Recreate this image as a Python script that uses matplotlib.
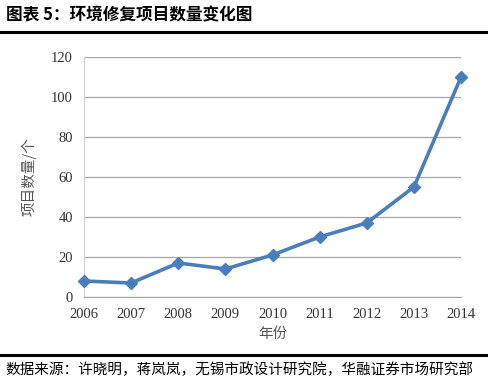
import matplotlib.pyplot as plt
from matplotlib.lines import Line2D

# data
years = [2006, 2007, 2008, 2009, 2010, 2011, 2012, 2013, 2014]
counts = [8, 7, 17, 14, 21, 30, 37, 55, 110]
y_ticks = [0, 20, 40, 60, 80, 100, 120]

title_text = "图表 5：环境修复项目数量变化图"
source_text = "数据来源：许晓明，蒋岚岚，无锡市政设计研究院，华融证券市场研究部"

cjk = ['Noto Sans CJK SC', 'DejaVu Sans']
serif = ['Liberation Serif', 'Noto Sans CJK SC']

fig = plt.figure(figsize=(4.88, 3.83), dpi=100)
ax = fig.add_axes([0.172, 0.2245, 0.773, 0.6275])

# the series
ax.plot(years, counts, color='#4a7ebb', lw=2.6, marker='D', ms=6,
        markeredgecolor='#4a7ebb', clip_on=False, zorder=3)

ax.set_xlim(2006, 2014)
ax.set_ylim(0, 120)
ax.set_yticks(y_ticks)
ax.set_xticks(years)
ax.set_xticklabels([str(y) for y in years], family=serif, fontsize=10.5, color='#333333')
ax.set_yticklabels([str(v) for v in y_ticks], family=serif, fontsize=10.5, color='#333333')
ax.tick_params(length=0, pad=8)

# gridlines
ax.grid(axis='y', color='#a6a6a6', lw=0.9)
ax.set_axisbelow(True)
for s in ['top', 'right']:
    ax.spines[s].set_visible(False)
ax.spines['left'].set_color('#d0d0d0')
ax.spines['bottom'].set_color('#a6a6a6')

ax.set_ylabel("项目数量/个", family=cjk, fontsize=10.5, color='#555555', labelpad=10)
ax.set_xlabel("年份", family=cjk, fontsize=10.5, color='#555555', labelpad=4)

# header and footer
fig.text(0.012, 0.96, title_text, family=cjk, fontsize=12, fontweight='bold',
         style='italic', va='center', ha='left')
fig.add_artist(Line2D([0, 1], [1 - 32 / 383, 1 - 32 / 383], color='black', lw=2.2,
                      transform=fig.transFigure))
fig.add_artist(Line2D([0, 1], [1 - 355 / 383, 1 - 355 / 383], color='black', lw=2.2,
                      transform=fig.transFigure))
fig.text(0.012, 1 - 370 / 383, source_text, family=cjk, fontsize=10.5,
         va='center', ha='left')

fig.savefig('out.png', dpi=100)
